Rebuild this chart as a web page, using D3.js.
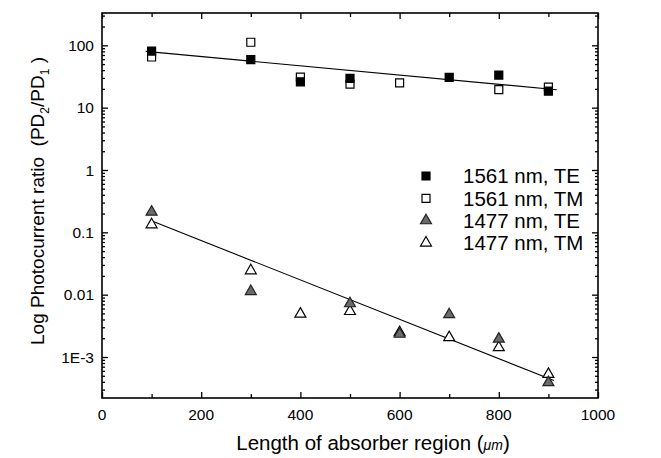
<!DOCTYPE html>
<html lang="en">
<head>
<meta charset="UTF-8">
<title>Photocurrent ratio</title>
<style>
  body { margin: 0; background: #fff; }
  svg { display: block; font-family: "Liberation Sans", Arial, sans-serif; }
</style>
</head>
<body>
<svg id="chart"></svg>
<script src="https://d3js.org/d3.v7.min.js"></script>
<script>
// absorber lengths (um)
const lengths = [100, 200, 300, 400, 500, 600, 700, 800, 900];

// values, null where no point
const te1561 = [81, null, 59, 26, 29.5, null, 30.6, 33.3, 18.4];
const tm1561 = [65, null, 112, 31, 23.9, 25, null, 19.4, 21.4];
const te1477 = [0.212, null, 0.0113, null, 0.0072, 0.00233, 0.0048, 0.00195, 0.00039];
const tm1477 = [0.133, null, 0.0243, 0.0049, 0.0054, 0.00248, 0.00206, 0.00142, 0.00053];

// fitted lines, end points
const fit1561 = [[88, 80], [917, 19.4]];
const fit1477 = [[97, 0.156], [911, 0.00042]];

const xTicks = [0, 200, 400, 600, 800, 1000];
const yTickLabels = ["1E-3", "0.01", "0.1", "1", "10", "100"];
const legendLabels = ["1561 nm, TE", "1561 nm, TM", "1477 nm, TE", "1477 nm, TM"];

const width = 661, height = 458;
const margin = {top: 13, right: 63, bottom: 60, left: 102};

const svg = d3.select("#chart").attr("width", width).attr("height", height);

const x = d3.scaleLinear([0, 1000], [margin.left, width - margin.right]);
const y = d3.scaleLog([2.2e-4, 330], [height - margin.bottom, margin.top]);

const decades = [1e-3, 1e-2, 1e-1, 1, 10, 100];
const minorY = y.ticks().filter(v => !decades.some(d => Math.abs(v / d - 1) < 1e-6));
const minorX = [100, 300, 500, 700, 900];

// axes: ticks point inward on all four sides
function addX(axisFn, ty) {
  svg.append("g").attr("transform", `translate(0,${ty})`)
    .call(axisFn(x).tickValues(xTicks).tickSize(-6).tickFormat(""))
    .call(g => g.select(".domain").remove());
  svg.append("g").attr("transform", `translate(0,${ty})`)
    .call(axisFn(x).tickValues(minorX).tickSize(-4).tickFormat(""))
    .call(g => g.select(".domain").remove());
}
addX(d3.axisBottom, height - margin.bottom);
addX(d3.axisTop, margin.top);

function addY(axisFn, tx) {
  svg.append("g").attr("transform", `translate(${tx},0)`)
    .call(axisFn(y).tickValues(decades).tickSize(-6).tickFormat(""))
    .call(g => g.select(".domain").remove());
  svg.append("g").attr("transform", `translate(${tx},0)`)
    .call(axisFn(y).tickValues(minorY).tickSize(-3).tickFormat(""))
    .call(g => g.select(".domain").remove());
}
addY(d3.axisLeft, margin.left);
addY(d3.axisRight, width - margin.right);

svg.selectAll(".tick line").attr("stroke", "#000").attr("stroke-width", 1.3);

// frame
svg.append("rect")
  .attr("x", x(0)).attr("y", y(330))
  .attr("width", x(1000) - x(0)).attr("height", y(2.2e-4) - y(330))
  .attr("fill", "none").attr("stroke", "#000").attr("stroke-width", 1.6);

// tick labels
svg.append("g").attr("font-size", 15.5).attr("text-anchor", "middle")
  .selectAll("text").data(xTicks).join("text")
  .attr("x", d => x(d)).attr("y", height - margin.bottom + 22)
  .text(d => d);

svg.append("g").attr("font-size", 15.5).attr("text-anchor", "end")
  .selectAll("text").data(decades).join("text")
  .attr("x", margin.left - 8).attr("y", d => y(d)).attr("dy", "0.36em")
  .text((d, i) => yTickLabels[i]);

// axis titles
const xt = svg.append("text").attr("font-size", 20.5).attr("text-anchor", "middle")
  .attr("x", 373).attr("y", 450);
xt.append("tspan").text("Length of absorber region (");
xt.append("tspan").attr("font-size", 14).attr("font-style", "italic").text("\u03bcm");
xt.append("tspan").text(")");

const yt = svg.append("text").attr("font-size", 19).attr("text-anchor", "middle")
  .style("white-space", "pre")
  .attr("transform", "translate(44,201) rotate(-90)");
yt.append("tspan").text("Log Photocurrent ratio  (PD");
yt.append("tspan").attr("font-size", 12).attr("dy", 5).text("2");
yt.append("tspan").attr("dy", -5).text("/PD");
yt.append("tspan").attr("font-size", 12).attr("dy", 5).text("1");
yt.append("tspan").attr("dy", -5).text(" )");

// fit lines
const line = d3.line().x(d => x(d[0])).y(d => y(d[1]));
[fit1561, fit1477].forEach(f => {
  svg.append("path").attr("d", line(f)).attr("fill", "none")
    .attr("stroke", "#000").attr("stroke-width", 1.1);
});

// markers
const sq = d3.symbol(d3.symbolSquare, 64);
const tri = d3.symbol(d3.symbolTriangle, 52);
const styles = [
  {sym: sq, fill: "#000", stroke: "#000"},
  {sym: sq, fill: "#fff", stroke: "#000"},
  {sym: tri, fill: "#6a6a6a", stroke: "#222"},
  {sym: tri, fill: "#fff", stroke: "#000"}
];
const series = [te1561, tm1561, te1477, tm1477];

// open markers first, filled ones over them, like the picture
[1, 3, 0, 2].forEach(k => {
  const pts = lengths.map((l, i) => [l, series[k][i]]).filter(p => p[1] != null);
  svg.append("g").selectAll("path").data(pts).join("path")
    .attr("transform", d => `translate(${x(d[0])},${y(d[1])})`)
    .attr("d", styles[k].sym())
    .attr("fill", styles[k].fill).attr("stroke", styles[k].stroke).attr("stroke-width", 1.2);
});

// legend
const lg = svg.append("g").attr("transform", "translate(426,176)");
legendLabels.forEach((lab, i) => {
  const row = lg.append("g").attr("transform", `translate(0,${i * 22.3})`);
  row.append("path").attr("d", styles[i].sym())
    .attr("fill", styles[i].fill).attr("stroke", styles[i].stroke).attr("stroke-width", 1.2);
  row.append("text").attr("x", 37).attr("dy", "0.36em").attr("font-size", 20.5).text(lab);
});
</script>
</body>
</html>
